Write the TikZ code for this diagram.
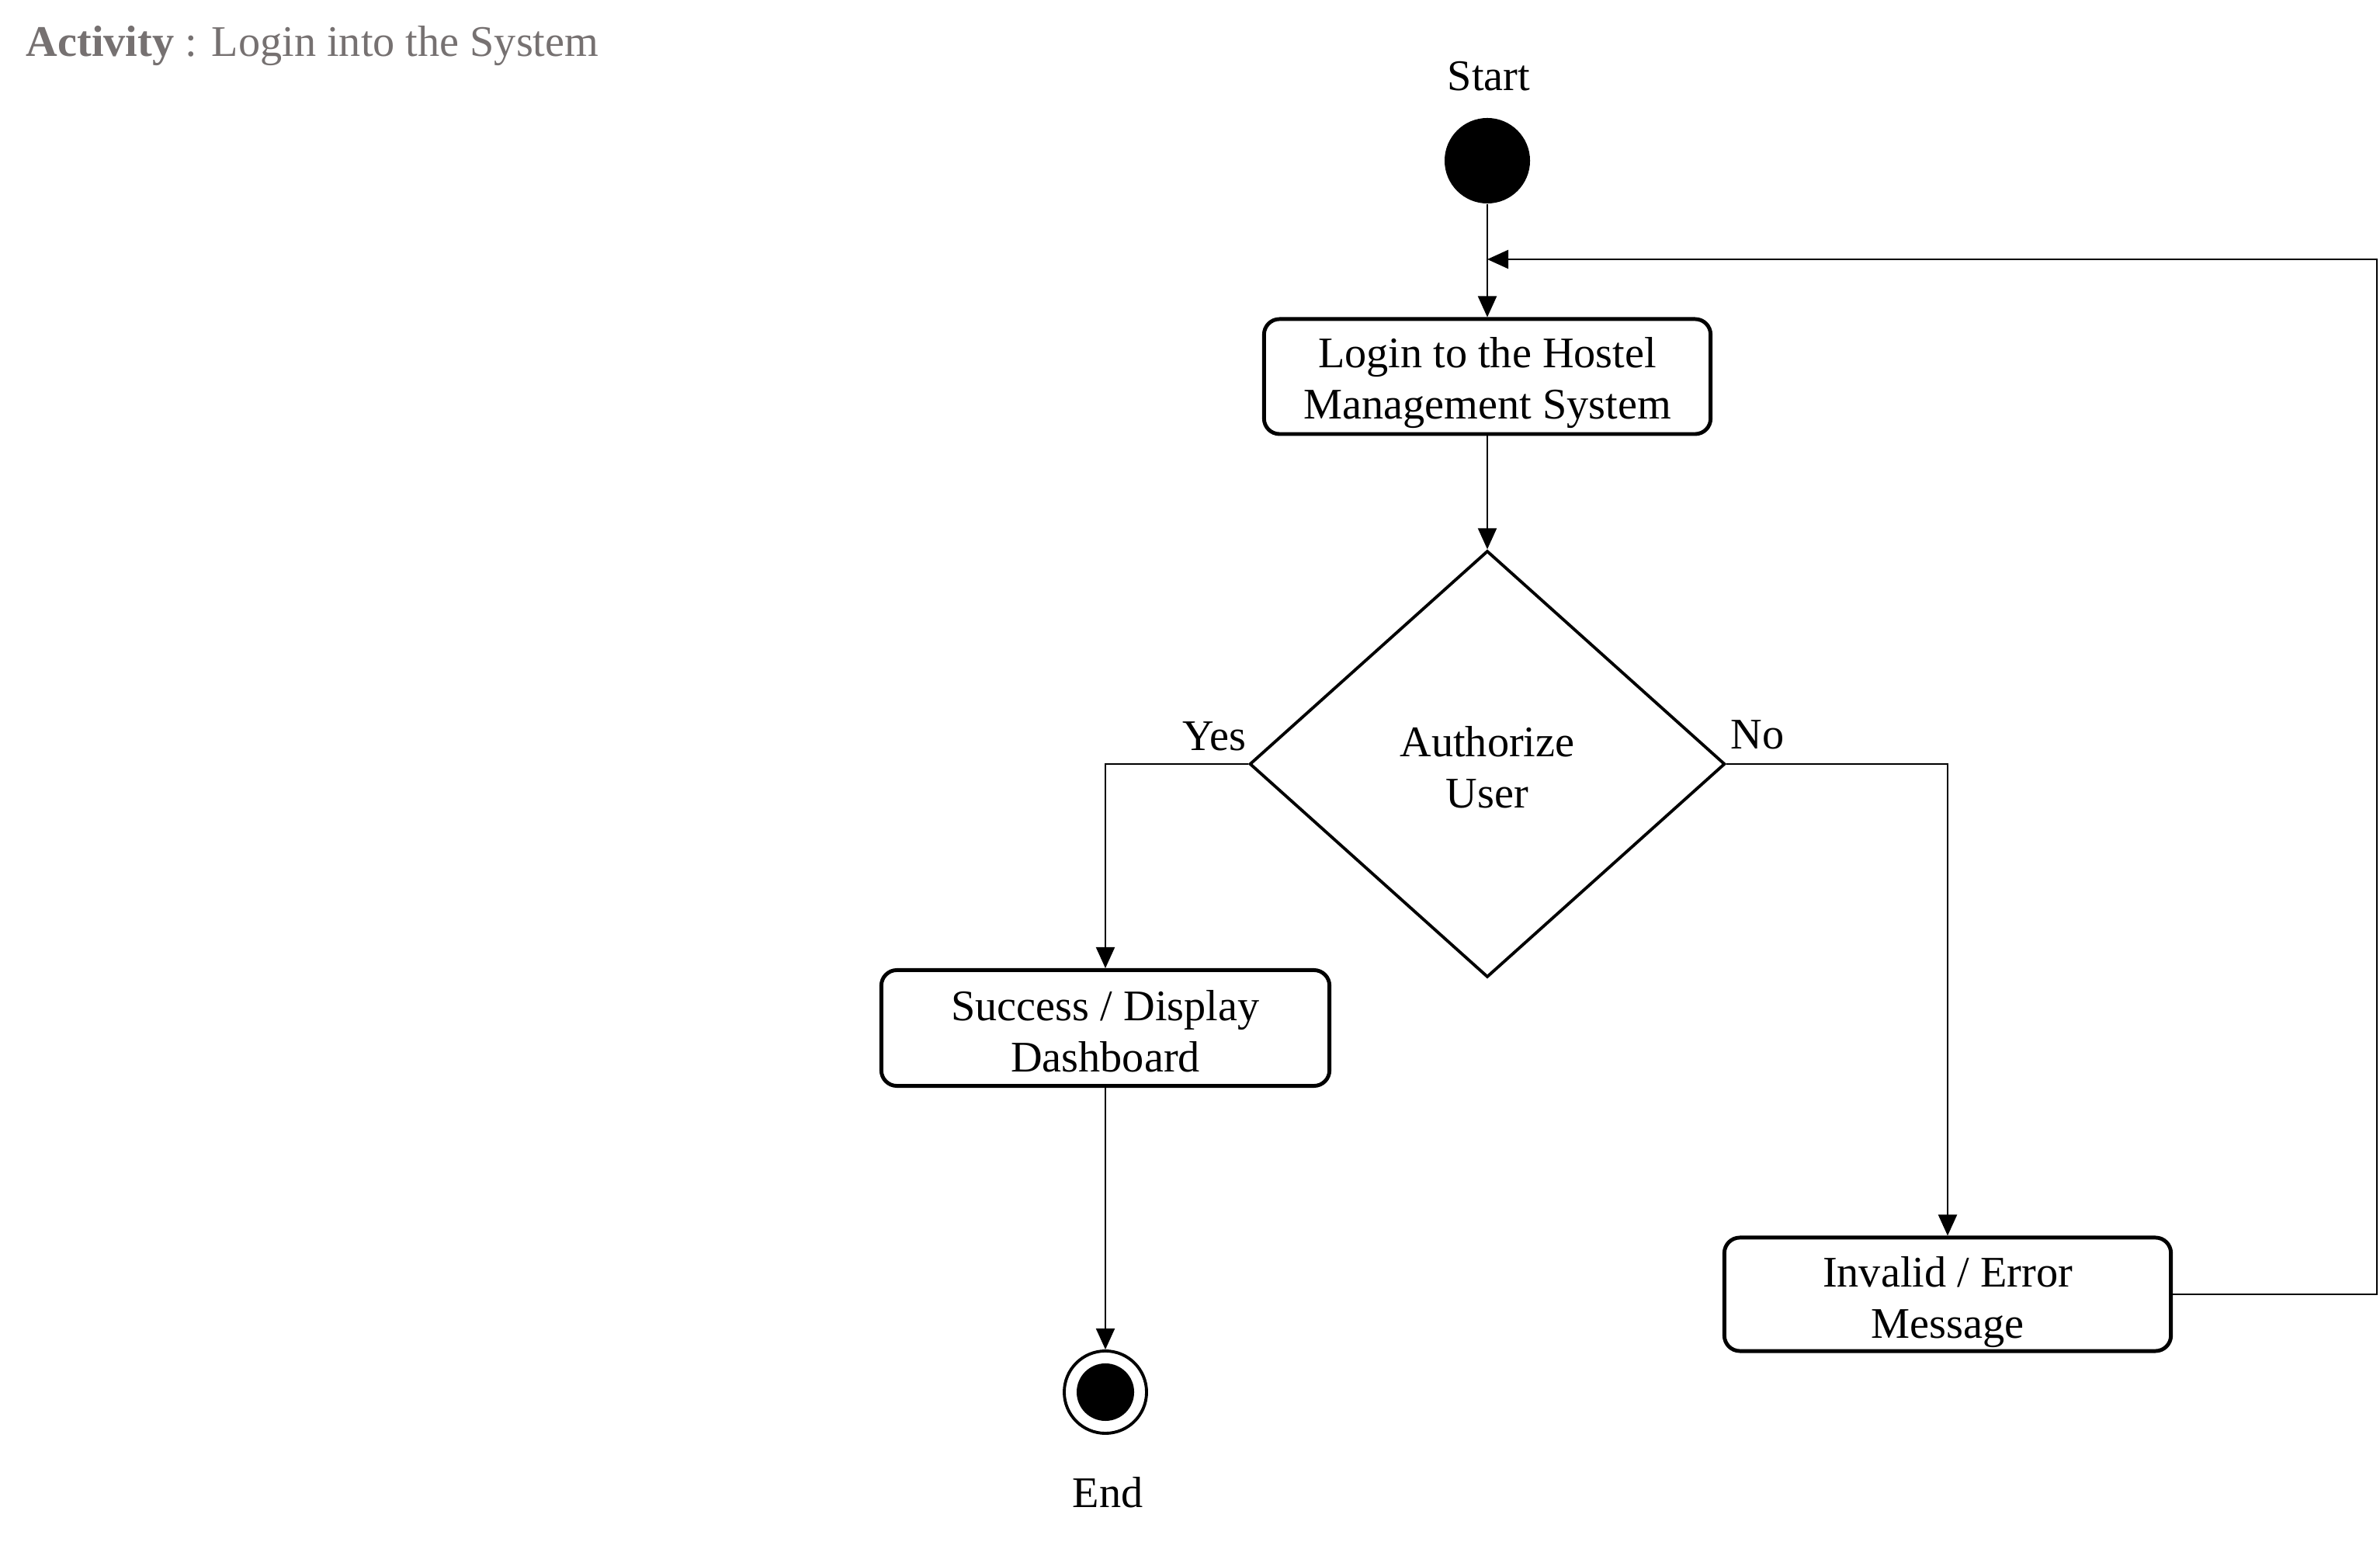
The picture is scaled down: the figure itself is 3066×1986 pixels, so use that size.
\documentclass[tikz,border=0pt]{standalone}
\usepackage{fontspec}
\setmainfont{Liberation Serif}
\usetikzlibrary{shapes.geometric,arrows.meta}
\definecolor{titlegray}{RGB}{118,113,113}
\newcommand{\lowtext}[2]{\raisebox{-#1}[\height][\depth]{\begin{tabular}{@{}c@{}}#2\end{tabular}}}
\tikzset{
  txt/.style={font=\fontsize{16}{18.7}\selectfont, text=black, inner sep=0pt},
  actbox/.style={draw, line width=1.4pt, rounded corners=0.2cm, align=center,
    font=\fontsize{16}{18.7}\selectfont, inner sep=0pt},
  decision/.style={draw, shape=diamond, line width=1.1pt, align=center, inner sep=0pt,
    font=\fontsize{16}{18.7}\selectfont},
  startdot/.style={circle, fill=black, minimum size=1.1cm, inner sep=0pt},
  endring/.style={circle, draw, line width=1.1pt, minimum size=1.06cm, inner sep=0pt},
  enddot/.style={circle, fill=black, minimum size=0.74cm, inner sep=0pt},
  flow/.style={line width=0.6pt, -{Triangle[length=0.27cm,width=0.24cm]}},
}
\begin{document}
\begin{tikzpicture}[x=0.01cm,y=-0.01cm]
\useasboundingbox (0,0) rectangle (3066,1986);
\node[anchor=west, text=titlegray, font=\fontsize{16}{18.7}\selectfont, inner sep=0pt] (title) at (33,59) {\textbf{Activity} : Login into the System};
\node[txt] (startlbl) at (1918,98) {Start};
\node[startdot] (start) at (1916,207) {};
\node[actbox, minimum width=5.75cm, minimum height=1.48cm] (login) at (1916,485) {\lowtext{0.08cm}{Login to the Hostel\\Management System}};
\node[decision, minimum width=6.12cm, minimum height=5.49cm] (dec) at (1916,984) {\lowtext{0.1cm}{Authorize\\User}};
\node[txt] (yes) at (1564,948) {Yes};
\node[txt] (no) at (2264,946) {No};
\node[actbox, minimum width=5.77cm, minimum height=1.49cm] (succ) at (1424,1324) {\lowtext{0.1cm}{Success / Display\\Dashboard}};
\node[actbox, minimum width=5.75cm, minimum height=1.46cm] (inv) at (2509,1667) {\lowtext{0.1cm}{Invalid / Error\\Message}};
\node[endring] (endn) at (1424,1793) {};
\node[enddot] (enddot) at (endn.center) {};
\node[txt] (endlbl) at (1427,1922) {End};
\coordinate (merge) at (1916,334);
\coordinate (loop) at (3062,334);
\draw[flow] (start) -- (login);
\draw[flow] (login) -- (dec);
\draw[flow] (dec.west) -| (succ.north);
\draw[flow] (dec.east) -| (inv.north);
\draw[flow] (succ) -- (endn);
\draw[flow] (inv.east) -| (loop) -- (merge);
\end{tikzpicture}
\end{document}
